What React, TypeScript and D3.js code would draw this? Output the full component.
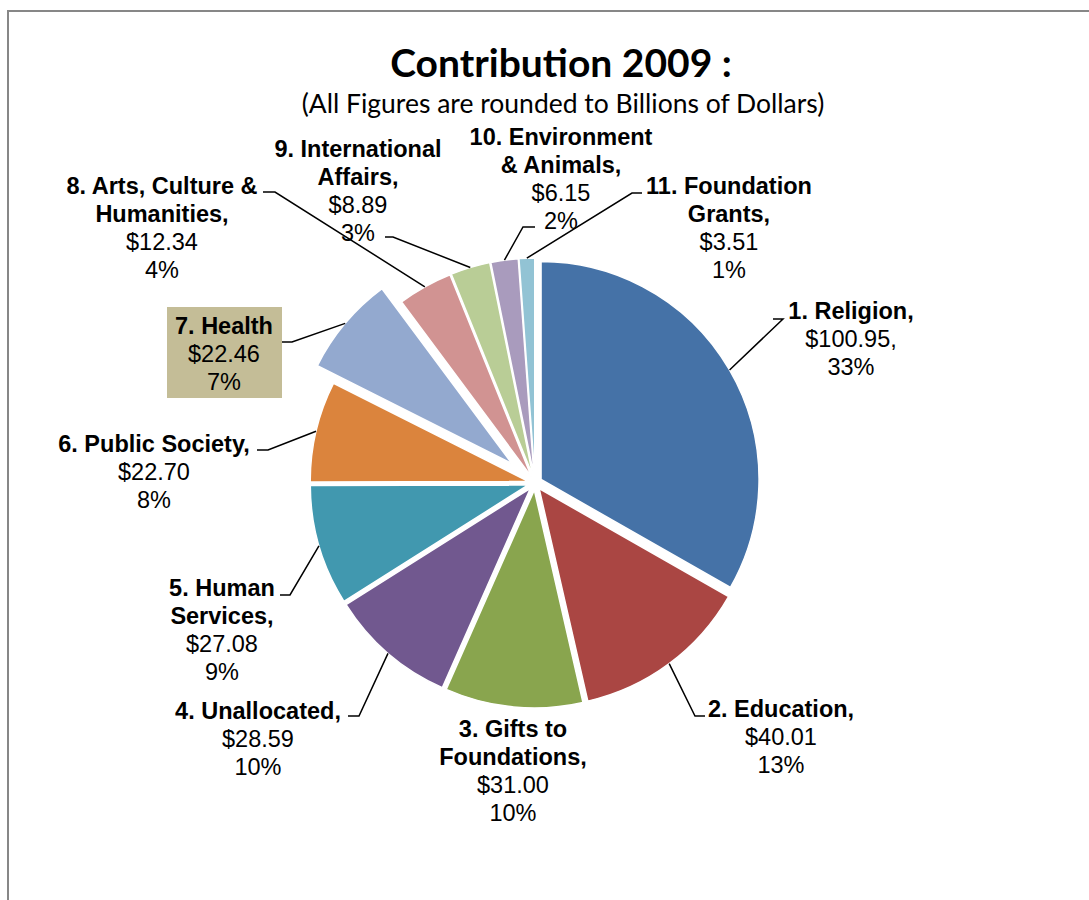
import React, { useEffect, useRef } from 'react';
import * as d3 from 'd3';

// data
const categoryLines = [
  ['1. Religion,'],
  ['2. Education,'],
  ['3. Gifts to', 'Foundations,'],
  ['4. Unallocated,'],
  ['5. Human', 'Services,'],
  ['6. Public Society,'],
  ['7. Health'],
  ['8. Arts, Culture &', 'Humanities,'],
  ['9. International', 'Affairs,'],
  ['10. Environment', '& Animals,'],
  ['11. Foundation', 'Grants,'],
];
const values = [100.95, 40.01, 31.0, 28.59, 27.08, 22.7, 22.46, 12.34, 8.89, 6.15, 3.51];
const percents = [33, 13, 10, 10, 9, 8, 7, 4, 3, 2, 1];
const valueSuffix = [',', '', '', '', '', '', '', '', '', '', ''];

const colors = ['#4572A7', '#AA4643', '#89A54E', '#71588F', '#4198AF', '#DB843D',
  '#93A9CF', '#D19392', '#B9CD96', '#A99BBD', '#92C3D4'];

// label placement: text centre x, first baseline y, leader elbow + end (or null)
const labelLayout = [
  { x: 851, y: 319, elbow: [783, 319], end: [773, 319] },
  { x: 781, y: 717, elbow: [695, 716], end: [705, 716] },
  { x: 513, y: 737, elbow: null, end: null },
  { x: 258, y: 719, elbow: [359, 716], end: [348, 716] },
  { x: 222, y: 596, elbow: [290, 595], end: [280, 595] },
  { x: 154, y: 452, elbow: [268, 450], end: [257, 450] },
  { x: 224, y: 334, elbow: [292, 342], end: [282, 342] },
  { x: 162, y: 194, elbow: [275, 192], end: [263, 192] },
  { x: 358, y: 157, elbow: [393, 237], end: [385, 237] },
  { x: 561, y: 145, elbow: [523, 227], end: [535, 227] },
  { x: 729, y: 194, elbow: [632, 193], end: [642, 193] },
];

const W = 1089;
const H = 900;
const cx = 535;
const cy = 483;
const R = 218;
const explode = [7, 7, 7, 7, 7, 7, 30, 7, 7, 7, 7];
const labelFont = '"Liberation Sans", Arial, sans-serif';
const fs = 23.5;
const lh = 28;

const App: React.FC = () => {
  const svgRef = useRef<SVGSVGElement>(null);

  useEffect(() => {
    const svg = d3.select(svgRef.current).html('');

    svg.append('rect').attr('width', W).attr('height', H).attr('fill', '#fff');

    // chart frame (only top and left edges visible)
    svg.append('path')
      .attr('d', `M8,${H} L8,11 L${W},11`)
      .attr('fill', 'none')
      .attr('stroke', '#878787')
      .attr('stroke-width', 2);

    svg.append('text')
      .attr('x', 561).attr('y', 77)
      .attr('text-anchor', 'middle')
      .attr('font-family', 'Lato, sans-serif')
      .attr('font-weight', 'bold')
      .attr('font-size', 39)
      .text('Contribution 2009 :');

    svg.append('text')
      .attr('x', 563).attr('y', 113)
      .attr('text-anchor', 'middle')
      .attr('font-family', 'Lato, sans-serif')
      .attr('font-size', 26.5)
      .text('(All Figures are rounded to Billions of Dollars)');

    const pie = d3.pie<number>().sort(null).value(d => d);
    const arcs = pie(values);
    const arc = d3.arc<d3.PieArcDatum<number>>().innerRadius(0).outerRadius(R);

    const offset = (a: d3.PieArcDatum<number>, d: number) => {
      const m = (a.startAngle + a.endAngle) / 2;
      return [Math.sin(m) * d, -Math.cos(m) * d];
    };

    const g = svg.append('g').attr('transform', `translate(${cx},${cy})`);
    g.selectAll('path.slice')
      .data(arcs).enter().append('path')
        .attr('class', 'slice')
        .attr('d', arc)
        .attr('transform', (a, i) => {
          const [dx, dy] = offset(a, explode[i]);
          return `translate(${dx},${dy})`;
        })
        .attr('fill', (_, i) => colors[i])
        .attr('stroke', '#fff')
        .attr('stroke-width', 1.5);

    // leader lines from the middle of each outer arc
    arcs.forEach((a, i) => {
      const L = labelLayout[i];
      if (!L.elbow || !L.end) return;
      const m = (a.startAngle + a.endAngle) / 2;
      const rr = R + explode[i];
      const sx = cx + Math.sin(m) * rr;
      const sy = cy - Math.cos(m) * rr;
      svg.append('path')
        .attr('d', d3.line()([[sx, sy], L.elbow as [number, number], L.end as [number, number]]))
        .attr('fill', 'none')
        .attr('stroke', '#000')
        .attr('stroke-width', 1.5);
    });

    // health label box
    svg.append('rect')
      .attr('x', 167).attr('y', 307)
      .attr('width', 115).attr('height', 91)
      .attr('fill', '#C4BD97');

    arcs.forEach((a, i) => {
      const L = labelLayout[i];
      const lines = categoryLines[i];
      const t = svg.append('text')
        .attr('text-anchor', 'middle')
        .attr('font-family', labelFont)
        .attr('font-size', fs)
        .attr('fill', '#000');
      lines.forEach((ln, k) => {
        t.append('tspan')
          .attr('x', L.x).attr('y', L.y + k * lh)
          .attr('font-weight', 'bold')
          .text(ln);
      });
      const n = lines.length;
      t.append('tspan')
        .attr('x', L.x).attr('y', L.y + n * lh)
        .text(`$${values[i].toFixed(2)}${valueSuffix[i]}`);
      t.append('tspan')
        .attr('x', L.x).attr('y', L.y + (n + 1) * lh)
        .text(`${percents[i]}%`);
    });
  }, []);

  return (
    <svg
      ref={svgRef}
      width={W}
      height={H}
      style={{ position: 'absolute', left: 0, top: 0 }}
    />
  );
};

export default App;
